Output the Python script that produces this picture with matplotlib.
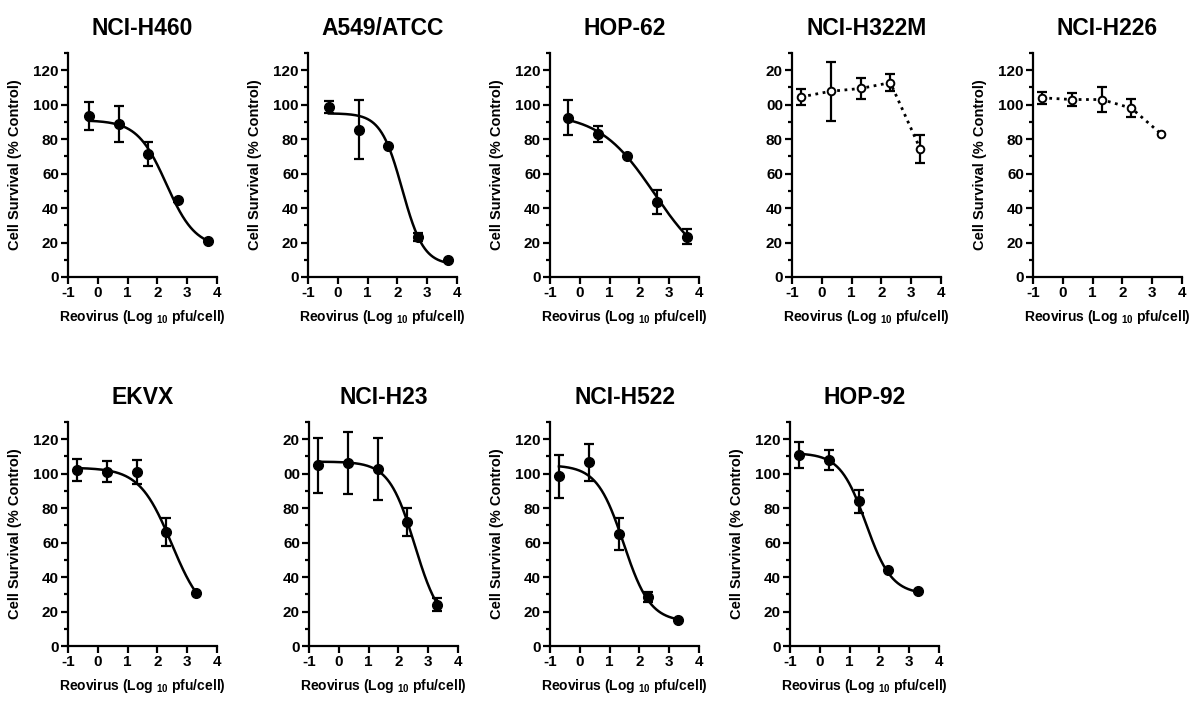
import numpy as np
import matplotlib
matplotlib.use("Agg")
import matplotlib.pyplot as plt
from matplotlib.ticker import MultipleLocator

plt.rcParams['font.family'] = ['Liberation Sans', 'DejaVu Sans']
plt.rcParams['font.weight'] = 'bold'
plt.rcParams['axes.labelweight'] = 'bold'
plt.rcParams['mathtext.fontset'] = 'custom'
plt.rcParams['mathtext.rm'] = 'Liberation Sans:bold'
plt.rcParams['mathtext.bf'] = 'Liberation Sans:bold'

# Cell lines, in reading order
cell_lines = ["NCI-H460", "A549/ATCC", "HOP-62", "NCI-H322M", "NCI-H226",
              "EKVX", "NCI-H23", "NCI-H522", "HOP-92"]

# Dose (log10 pfu/cell)
doses = [
    [-0.3, 0.7, 1.7, 2.7, 3.7],
    [-0.3, 0.7, 1.7, 2.7, 3.7],
    [-0.4, 0.6, 1.6, 2.6, 3.6],
    [-0.7, 0.3, 1.3, 2.3, 3.3],
    [-0.7, 0.3, 1.3, 2.3, 3.3],
    [-0.7, 0.3, 1.3, 2.3, 3.3],
    [-0.7, 0.3, 1.3, 2.3, 3.3],
    [-0.7, 0.3, 1.3, 2.3, 3.3],
    [-0.7, 0.3, 1.3, 2.3, 3.3],
]

# Cell survival (% control), mean and SD
survival = [
    [93.5, 89.0, 71.5, 44.5, 21.0],
    [98.8, 85.5, 76.0, 23.0, 10.0],
    [92.5, 83.0, 70.0, 43.5, 23.5],
    [104.5, 107.8, 109.4, 112.8, 74.5],
    [104.0, 103.0, 103.0, 98.0, 83.0],
    [102.0, 101.0, 101.0, 66.0, 30.8],
    [105.0, 106.0, 102.5, 72.0, 24.0],
    [98.5, 106.5, 65.0, 28.3, 15.2],
    [111.0, 108.0, 84.0, 44.3, 31.8],
]
survival_sd = [
    [8.0, 10.5, 7.0, 1.0, 0.0],
    [3.5, 17.0, 0.0, 2.3, 0.0],
    [10.0, 4.5, 0.0, 7.0, 4.5],
    [4.5, 17.0, 6.2, 4.8, 8.2],
    [3.6, 3.6, 7.0, 5.3, 0.0],
    [6.3, 6.1, 7.2, 8.2, 0.0],
    [16.0, 18.0, 18.0, 8.2, 3.6],
    [12.5, 10.7, 9.2, 2.8, 0.0],
    [7.5, 6.0, 6.8, 0.0, 0.0],
]

# Sigmoid fit parameters (top, bottom, logEC50, hill); None = no fit (dotted line)
fits = [
    (91.0, 17.0, 2.30, 0.89),
    (95.0, 7.0, 2.16, 1.21),
    (95.0, 2.0, 2.50, 0.47),
    None,
    None,
    (103.5, 15.0, 2.48, 0.80),
    (107.0, 10.0, 2.55, 1.00),
    (105.0, 14.0, 1.47, 0.97),
    (112.0, 30.0, 1.55, 1.00),
]

# panels whose left edge (y label, leading digit) is cut off in the source
clipped = [False, False, False, True, False, False, True, False, False]

W, H = 1200, 707
fig = plt.figure(figsize=(W / 100, H / 100), dpi=100)

lefts = [68, 308, 550, 792, 1033, 68, 309, 550, 790]
tops = [53] * 5 + [422] * 4
ax_w, ax_h = 149, 224

for i, name in enumerate(cell_lines):
    ax = fig.add_axes([lefts[i] / W, 1 - (tops[i] + ax_h) / H, ax_w / W, ax_h / H])
    x = np.array(doses[i])
    y = np.array(survival[i])
    sd = np.array(survival_sd[i])

    ax.errorbar(x[sd > 0], y[sd > 0], yerr=sd[sd > 0], fmt='none', ecolor='black',
                elinewidth=1.6, capsize=3.5, capthick=1.6, zorder=2)
    if fits[i] is not None:
        top, bottom, ec50, hill = fits[i]
        xs = np.linspace(x[0], x[-1], 300)
        ys = bottom + (top - bottom) / (1 + 10 ** ((xs - ec50) * hill))
        ax.plot(xs, ys, color='black', lw=1.8, zorder=3)
        ax.plot(x, y, 'o', color='black', ms=7, zorder=4)
    else:
        ax.plot(x, y, ':', color='black', lw=2.0, zorder=3)
        ax.plot(x, y, 'o', mfc='white', mec='black', mew=1.4, ms=5.5, zorder=4)

    ax.set_xlim(-1, 4)
    ax.set_ylim(0, 130)
    ax.yaxis.set_minor_locator(MultipleLocator(10))
    ax.set_yticks(np.arange(0, 121, 20))
    if clipped[i]:
        ylabels = ['0', '20', '40', '60', '80', '00', '20']
    else:
        ylabels = [str(v) for v in range(0, 121, 20)]
        ax.set_ylabel('Cell Survival (% Control)', fontsize=10.5,
                      fontweight='bold', labelpad=8)
    ax.set_yticklabels(ylabels, fontweight='bold', fontsize=11)
    ax.set_xticks(np.arange(-1, 5, 1))
    ax.set_xticklabels(['-1', '0', '1', '2', '3', '4'], fontweight='bold', fontsize=11)

    for s in ['top', 'right']:
        ax.spines[s].set_visible(False)
    for s in ['left', 'bottom']:
        ax.spines[s].set_linewidth(1.6)
    ax.tick_params(which='major', length=5, width=1.6, pad=1.5)
    ax.tick_params(which='minor', length=3, width=1.6)
    ax.tick_params(axis='x', which='minor', length=0)

    ax.set_xlabel(r'Reovirus (Log $_{\mathbf{10}}$ pfu/cell)', fontsize=10,
                  fontweight='bold', labelpad=6)
    ax.set_title(name, fontsize=16.5, fontweight='bold', pad=13)

fig.savefig('out.png', dpi=100)
